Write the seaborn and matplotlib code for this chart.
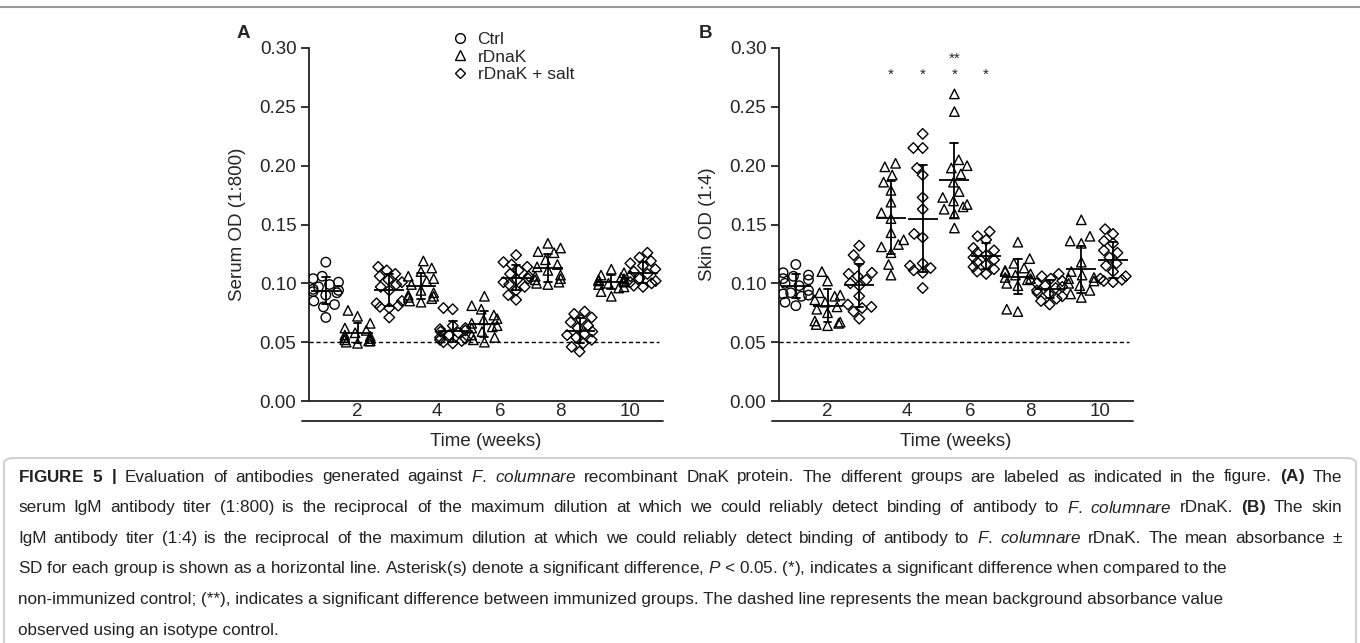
import matplotlib
matplotlib.use('Agg')
import matplotlib.pyplot as plt
from matplotlib.lines import Line2D
from matplotlib.patches import FancyBboxPatch
from matplotlib.ticker import FormatStrFormatter
import seaborn as sns
import pandas as pd

weeks = [2, 4, 6, 8, 10]
treatments = ['Ctrl', 'rDnaK', 'rDnaK + salt']
markers = {'Ctrl': 'o', 'rDnaK': '^', 'rDnaK + salt': 'D'}
week_label_pos = [1.0, 3.5, 5.5, 7.4, 9.6]

# panel A - serum OD (1:800)
serum_ctrl = [0.118, 0.106, 0.104, 0.101, 0.099, 0.097, 0.095, 0.094, 0.093, 0.092, 0.090, 0.085, 0.082, 0.080, 0.071]
serum_rdnak = [
    [0.077, 0.072, 0.066, 0.062, 0.060, 0.058, 0.056, 0.055, 0.054, 0.053, 0.052, 0.051, 0.051, 0.050, 0.049],
    [0.119, 0.113, 0.110, 0.106, 0.104, 0.102, 0.099, 0.094, 0.092, 0.090, 0.089, 0.088, 0.087, 0.085, 0.084],
    [0.089, 0.081, 0.078, 0.073, 0.070, 0.069, 0.066, 0.064, 0.063, 0.062, 0.059, 0.056, 0.054, 0.052, 0.050],
    [0.134, 0.130, 0.127, 0.126, 0.120, 0.116, 0.114, 0.111, 0.107, 0.106, 0.104, 0.103, 0.101, 0.100, 0.099],
    [0.112, 0.109, 0.107, 0.105, 0.104, 0.103, 0.102, 0.102, 0.101, 0.100, 0.099, 0.097, 0.096, 0.093, 0.089],
]
serum_salt = [
    [0.114, 0.111, 0.108, 0.106, 0.103, 0.101, 0.099, 0.097, 0.094, 0.085, 0.083, 0.081, 0.080, 0.079, 0.071],
    [0.079, 0.078, 0.064, 0.062, 0.061, 0.060, 0.059, 0.058, 0.056, 0.054, 0.053, 0.052, 0.051, 0.050, 0.049],
    [0.124, 0.118, 0.116, 0.114, 0.111, 0.108, 0.106, 0.104, 0.103, 0.101, 0.099, 0.097, 0.094, 0.090, 0.086],
    [0.076, 0.074, 0.071, 0.069, 0.067, 0.064, 0.062, 0.059, 0.057, 0.056, 0.054, 0.052, 0.049, 0.046, 0.042],
    [0.126, 0.122, 0.119, 0.117, 0.115, 0.112, 0.110, 0.108, 0.106, 0.104, 0.102, 0.101, 0.100, 0.098, 0.097],
]

# panel B - skin OD (1:4)
skin_ctrl = [0.116, 0.109, 0.107, 0.106, 0.104, 0.103, 0.100, 0.098, 0.094, 0.092, 0.091, 0.090, 0.089, 0.084, 0.081]
skin_rdnak = [
    [0.110, 0.102, 0.092, 0.090, 0.089, 0.086, 0.084, 0.080, 0.078, 0.075, 0.068, 0.067, 0.066, 0.065, 0.064],
    [0.202, 0.199, 0.192, 0.186, 0.179, 0.169, 0.160, 0.155, 0.143, 0.137, 0.133, 0.131, 0.126, 0.116, 0.107],
    [0.261, 0.246, 0.205, 0.200, 0.198, 0.193, 0.186, 0.178, 0.173, 0.170, 0.167, 0.165, 0.163, 0.159, 0.147],
    [0.135, 0.121, 0.117, 0.113, 0.111, 0.110, 0.108, 0.107, 0.105, 0.104, 0.103, 0.100, 0.098, 0.078, 0.076],
    [0.154, 0.140, 0.136, 0.134, 0.118, 0.110, 0.107, 0.105, 0.104, 0.102, 0.100, 0.098, 0.094, 0.091, 0.088],
]
skin_salt = [
    [0.132, 0.124, 0.118, 0.109, 0.108, 0.106, 0.103, 0.100, 0.098, 0.089, 0.082, 0.080, 0.079, 0.076, 0.070],
    [0.227, 0.215, 0.215, 0.198, 0.192, 0.173, 0.163, 0.142, 0.139, 0.117, 0.115, 0.113, 0.111, 0.109, 0.096],
    [0.144, 0.140, 0.137, 0.130, 0.128, 0.126, 0.124, 0.122, 0.120, 0.118, 0.116, 0.114, 0.112, 0.110, 0.108],
    [0.108, 0.106, 0.104, 0.102, 0.100, 0.098, 0.097, 0.096, 0.094, 0.092, 0.091, 0.089, 0.087, 0.085, 0.082],
    [0.146, 0.142, 0.136, 0.134, 0.128, 0.126, 0.122, 0.117, 0.115, 0.110, 0.106, 0.104, 0.103, 0.102, 0.101],
]
# significance marks on panel B: (week, group, text, height)
skin_stars = [(4, 'rDnaK', '*', 0.277), (4, 'rDnaK + salt', '*', 0.277),
              (6, 'rDnaK', '*', 0.277), (6, 'rDnaK', '**', 0.291), (6, 'rDnaK + salt', '*', 0.277)]

caption = [
    r'$\mathbf{FIGURE}$ $\mathbf{5}$ $\mathbf{|}$ Evaluation of antibodies generated against $\mathit{F.}$ $\mathit{columnare}$ recombinant DnaK protein. The different groups are labeled as indicated in the figure. $\mathbf{(A)}$ The',
    r'serum IgM antibody titer (1:800) is the reciprocal of the maximum dilution at which we could reliably detect binding of antibody to $\mathit{F.}$ $\mathit{columnare}$ rDnaK. $\mathbf{(B)}$ The skin',
    r'IgM antibody titer (1:4) is the reciprocal of the maximum dilution at which we could reliably detect binding of antibody to $\mathit{F.}$ $\mathit{columnare}$ rDnaK. The mean absorbance ±',
    r'SD for each group is shown as a horizontal line. Asterisk(s) denote a significant difference, $\mathit{P}$ < 0.05. (*), indicates a significant difference when compared to the',
    r'non-immunized control; (**), indicates a significant difference between immunized groups. The dashed line represents the mean background absorbance value',
    r'observed using an isotype control.',
]
justified_lines = 3

slots = ['Ctrl'] + [s for wk in weeks for s in (f'rDnaK {wk}', f'rDnaK + salt {wk}')]


def build_frame(ctrl, rdnak, salt):
    rows = [('Ctrl', 'Ctrl', v) for v in ctrl]
    for wk, a, b in zip(weeks, rdnak, salt):
        rows += [(f'rDnaK {wk}', 'rDnaK', v) for v in a]
        rows += [(f'rDnaK + salt {wk}', 'rDnaK + salt', v) for v in b]
    return pd.DataFrame(rows, columns=['slot', 'group', 'od'])


sns.set_style('ticks')
plt.rcParams['font.family'] = ['Liberation Sans', 'DejaVu Sans']
plt.rcParams['mathtext.fontset'] = 'custom'
plt.rcParams['mathtext.rm'] = 'Liberation Sans'
plt.rcParams['mathtext.it'] = 'Liberation Sans:italic'
plt.rcParams['mathtext.bf'] = 'Liberation Sans:bold'

FS = 13.5


def draw_panel(ax, df, ylabel):
    for grp in treatments:
        sub = df[df['group'] == grp]
        sns.swarmplot(data=sub, x='slot', y='od', order=slots, marker=markers[grp],
                      size=5.4 if grp == 'rDnaK + salt' else 6.8, color='black',
                      edgecolor='black', linewidth=1, warn_thresh=1, ax=ax)
    for coll in ax.collections:
        coll.set_facecolor('none')
    sns.pointplot(data=df, x='slot', y='od', order=slots, errorbar='sd', color='black',
                  markers='_', markersize=21, markeredgewidth=1.3, linestyle='none',
                  capsize=0.25, err_kws={'linewidth': 1.3}, ax=ax)
    ax.axhline(0.05, xmin=0, xmax=0.99, color='black', lw=1, ls=(0, (3, 2)))
    ax.set_xlim(-0.53, len(slots) - 0.37)
    ax.set_ylim(0, 0.30)
    ax.set_yticks([0, 0.05, 0.10, 0.15, 0.20, 0.25, 0.30])
    ax.yaxis.set_major_formatter(FormatStrFormatter('%.2f'))
    ax.tick_params(axis='y', labelsize=FS, length=6, width=1.3, color='#222222', pad=3)
    ax.set_xticks([])
    ax.set_xlabel('')
    ax.set_ylabel(ylabel, fontsize=FS, labelpad=10)
    for side in ['top', 'right']:
        ax.spines[side].set_visible(False)
    for side in ['left', 'bottom']:
        ax.spines[side].set_linewidth(1.3)
        ax.spines[side].set_color('#222222')
    trans = ax.get_xaxis_transform()
    for pos, wk in zip(week_label_pos, weeks):
        ax.text(pos, -0.03, str(wk), transform=trans, ha='center', va='center', fontsize=FS)
    ax.plot([-0.02, 1.0], [-0.056, -0.056], transform=ax.transAxes, color='#222222',
            lw=1.3, clip_on=False)
    ax.text(0.5, -0.115, 'Time (weeks)', transform=ax.transAxes, ha='center',
            va='center', fontsize=FS)


fig = plt.figure(figsize=(13.6, 6.43), dpi=100)
ax_a = fig.add_axes([309 / 1360, 242 / 643, 354 / 1360, 353 / 643])
ax_b = fig.add_axes([779 / 1360, 242 / 643, 354 / 1360, 353 / 643])

draw_panel(ax_a, build_frame(serum_ctrl, serum_rdnak, serum_salt), 'Serum OD (1:800)')
draw_panel(ax_b, build_frame(skin_ctrl, skin_rdnak, skin_salt), 'Skin OD (1:4)')

handles = [Line2D([], [], marker=markers[t], ls='none', mfc='none', mec='black', mew=1,
                  ms=5.5 if t == 'rDnaK + salt' else 7) for t in treatments]
ax_a.legend(handles, treatments, loc='upper left', bbox_to_anchor=(0.405, 1.045),
            frameon=False, fontsize=12.5, handlelength=0.9, handletextpad=0.55,
            labelspacing=0.12, borderpad=0, borderaxespad=0)

for wk, grp, txt, y in skin_stars:
    ax_b.text(slots.index(f'{grp} {wk}'), y, txt, ha='center', va='center', fontsize=11)

fig.text(243 / 1360, 1 - 33 / 643, 'A', fontsize=FS, fontweight='bold', ha='center', va='center')
fig.text(705 / 1360, 1 - 33 / 643, 'B', fontsize=FS, fontweight='bold', ha='center', va='center')

fig.add_artist(Line2D([0, 1], [1 - 7 / 643] * 2, color='#9a9a9a', lw=1.5))
fig.add_artist(FancyBboxPatch((4 / 1360, -0.05), 1352 / 1360, 0.05 + 1 - 458 / 643,
                              boxstyle='round,pad=0,rounding_size=0.008',
                              transform=fig.transFigure, fc='none', ec='#c8c8c8', lw=1.2))

# caption, first lines justified to the box width
renderer = fig.canvas.get_renderer()
x_left, x_right = 18, 1342
for i, line in enumerate(caption):
    y = 1 - (477 + 30.6 * i) / 643
    if i < justified_lines:
        words = line.split(' ')
        arts = [fig.text(0, y, w, fontsize=12.3, ha='left', va='center', color='#222222')
                for w in words]
        widths = [a.get_window_extent(renderer).width for a in arts]
        gap = (x_right - x_left - sum(widths)) / (len(words) - 1)
        x = x_left
        for a, w in zip(arts, widths):
            a.set_x(x / 1360)
            x += w + gap
    else:
        fig.text(x_left / 1360, y, line, fontsize=12.3, ha='left', va='center', color='#222222')

fig.savefig('out.png', dpi=100)
